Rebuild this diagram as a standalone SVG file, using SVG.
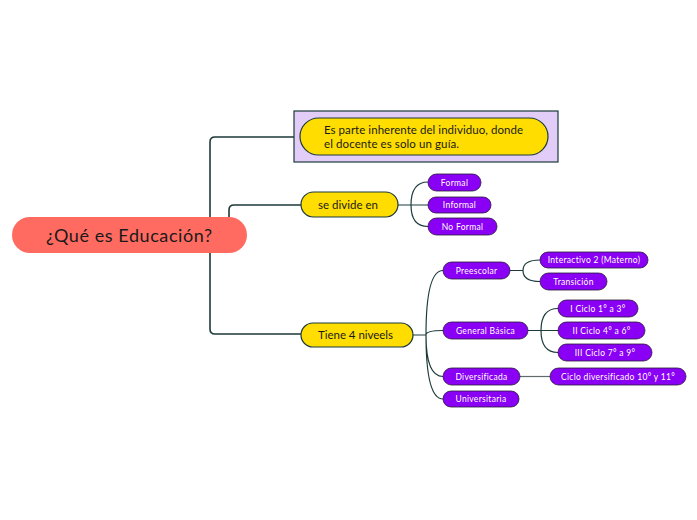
<svg xmlns="http://www.w3.org/2000/svg" width="697" height="520" viewBox="0 0 697 520">
<style>
.ln{fill:none;stroke:#1c3a3a;stroke-width:1.6}
.ln2{fill:none;stroke:#1c3a3a;stroke-width:1.2}
.lg{fill:none;stroke:#5f6b6b;stroke-width:1.2}
.y{fill:#ffdd00;stroke:#1c3a3a;stroke-width:1.2}
.p{fill:#8a00f5;stroke:#2a1a3a;stroke-width:0.8}
.ty{font-family:Lato,"Liberation Sans",sans-serif;font-size:11.5px;fill:#1a1a1a}
.tp{font-family:Lato,"Liberation Sans",sans-serif;font-size:8.5px;fill:#ffffff;letter-spacing:0.3px}
</style>
<rect width="697" height="520" fill="#ffffff"/>
<g id="connectors">
<path class="ln" d="M210,253 V329 Q210,334 215,334 H301"/>
<path class="ln" d="M210,217 V142 Q210,137 215,137 H300"/>
<path class="ln" d="M229,217 V210 Q229,205 234,205 H301"/>
<path class="ln2" d="M398,205 H411 M411,205 Q411,182 428,182 M411,205 H428 M411,205 Q411,226.5 428,226.5"/>
<path class="ln2" d="M413,335 H426 M426,335 Q426,270.5 443,270.5 M426,335 Q426,330.5 443,330.5 M426,335 Q426,376.5 443,376.5 M426,335 Q426,399 443,399"/>
<path class="ln2" d="M510,270.5 H523 M523,270.5 Q523,260 540,260 M523,270.5 Q523,281.5 540,281.5"/>
<path class="ln2" d="M528,330.5 H541 M541,330.5 Q541,308.5 558,308.5 M541,330.5 H558 M541,330.5 Q541,352.5 558,352.5"/>
<path class="lg" d="M520,376.5 H550"/>
</g>
<g id="root">
<rect x="12" y="217" width="235" height="36" rx="18" fill="#ff6b61"/>
<text x="46" y="241.5" textLength="166" font-family="Lato,'Liberation Sans',sans-serif" font-size="18" fill="#1a1a1a">¿Qué es Educación?</text>
</g>
<g id="n-def">
<rect x="294" y="111" width="264" height="51" fill="#e2cdf8" stroke="#1c3a3a" stroke-width="1.2"/>
<rect class="y" x="300" y="118" width="248" height="37" rx="18.5"/>
<text class="ty" x="324" y="134" textLength="199">Es parte inherente del individuo, donde</text>
<text class="ty" x="324" y="148" textLength="135">el docente es solo un guía.</text>
</g>
<g id="n-divide">
<rect class="y" x="301" y="192" width="97" height="25" rx="12.5"/>
<text class="ty" x="318" y="209" textLength="60">se divide en</text>
</g>
<g id="n-formal"><rect class="p" x="428" y="174" width="53" height="17" rx="8.5"/><text class="tp" x="454.5" y="185.5" text-anchor="middle">Formal</text></g>
<g id="n-informal"><rect class="p" x="428" y="197" width="63" height="16" rx="8"/><text class="tp" x="459.5" y="208" text-anchor="middle">Informal</text></g>
<g id="n-noformal"><rect class="p" x="428" y="218" width="69" height="17" rx="8.5"/><text class="tp" x="462.5" y="229.5" text-anchor="middle">No Formal</text></g>
<g id="n-niveles">
<rect class="y" x="301" y="323" width="112" height="24" rx="12"/>
<text class="ty" x="318" y="339" textLength="75">Tiene 4 niveels</text>
</g>
<g id="n-pre"><rect class="p" x="443" y="262" width="67" height="17" rx="8.5"/><text class="tp" x="476.5" y="273.5" text-anchor="middle">Preescolar</text></g>
<g id="n-gb"><rect class="p" x="443" y="322" width="85" height="17" rx="8.5"/><text class="tp" x="485.5" y="333.5" text-anchor="middle">General Básica</text></g>
<g id="n-div"><rect class="p" x="443" y="368" width="77" height="17" rx="8.5"/><text class="tp" x="481.5" y="379.5" text-anchor="middle">Diversificada</text></g>
<g id="n-uni"><rect class="p" x="443" y="391" width="76" height="16" rx="8"/><text class="tp" x="481" y="402" text-anchor="middle">Universitaria</text></g>
<g id="n-int"><rect class="p" x="540" y="252" width="108" height="16" rx="8"/><text class="tp" x="594" y="263" text-anchor="middle">Interactivo 2 (Materno)</text></g>
<g id="n-tra"><rect class="p" x="540" y="273" width="67" height="17" rx="8.5"/><text class="tp" x="573.5" y="284.5" text-anchor="middle">Transición</text></g>
<g id="n-c1"><rect class="p" x="558" y="300" width="80" height="17" rx="8.5"/><text class="tp" x="598" y="311.5" text-anchor="middle">I Ciclo 1° a 3°</text></g>
<g id="n-c2"><rect class="p" x="558" y="322" width="87" height="17" rx="8.5"/><text class="tp" x="601.5" y="333.5" text-anchor="middle">II Ciclo 4° a 6°</text></g>
<g id="n-c3"><rect class="p" x="558" y="344" width="94" height="17" rx="8.5"/><text class="tp" x="605" y="355.5" text-anchor="middle">III Ciclo 7° a 9°</text></g>
<g id="n-cd"><rect class="p" x="550" y="368" width="136" height="17" rx="8.5"/><text class="tp" x="618" y="379.5" text-anchor="middle">Ciclo diversificado 10° y 11°</text></g>
</svg>
